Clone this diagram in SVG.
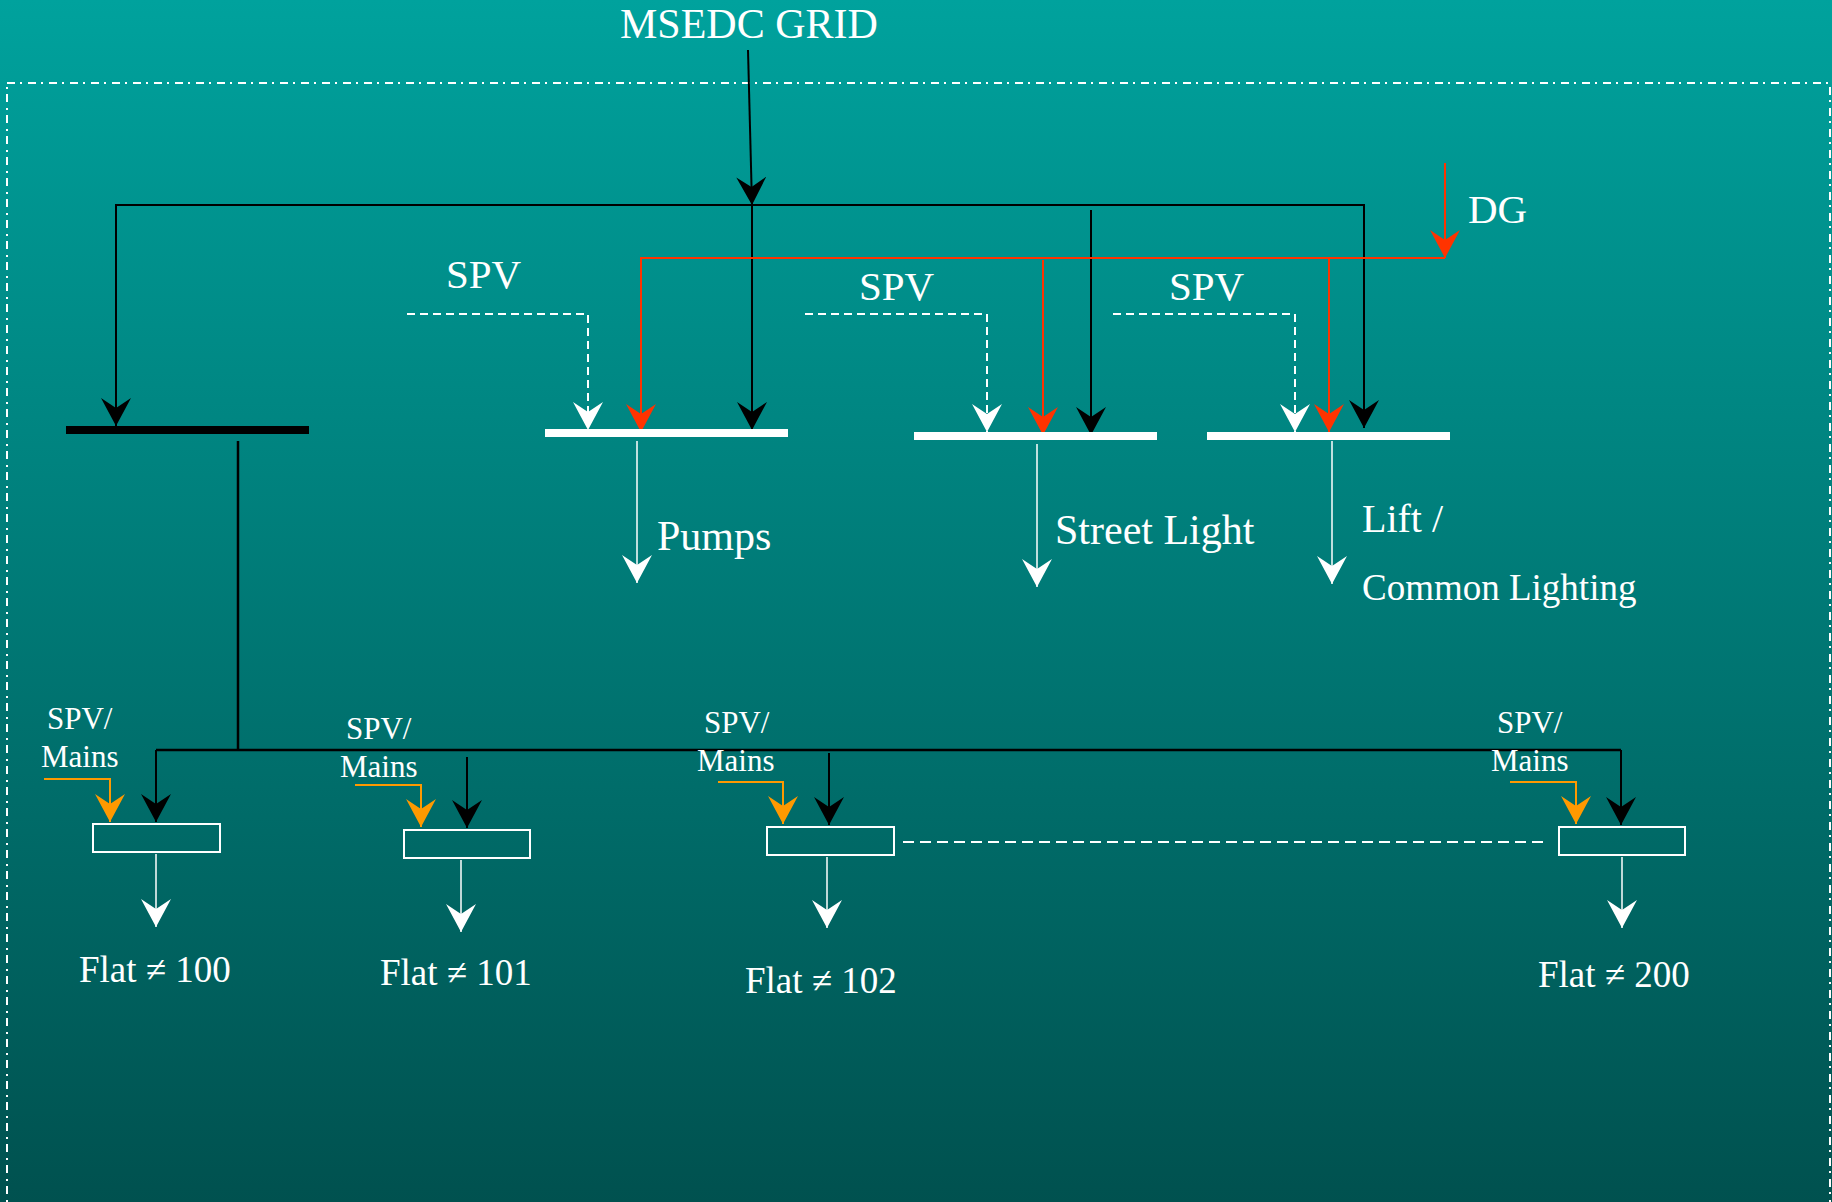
<svg xmlns="http://www.w3.org/2000/svg" width="1832" height="1202" viewBox="0 0 1832 1202">
<defs>
<linearGradient id="bg" x1="0" y1="0" x2="0" y2="1">
<stop offset="0" stop-color="#00A29D"/>
<stop offset="1" stop-color="#00514F"/>
</linearGradient>
<marker id="ah-k" viewBox="0 0 28 30" refX="28" refY="15" markerWidth="28" markerHeight="30" markerUnits="userSpaceOnUse" orient="auto"><path d="M28,15 L0,0 L10,15 L0,30 Z" fill="#000"/></marker>
<marker id="ah-w" viewBox="0 0 28 30" refX="28" refY="15" markerWidth="28" markerHeight="30" markerUnits="userSpaceOnUse" orient="auto"><path d="M28,15 L0,0 L10,15 L0,30 Z" fill="#fff"/></marker>
<marker id="ah-r" viewBox="0 0 28 30" refX="28" refY="15" markerWidth="28" markerHeight="30" markerUnits="userSpaceOnUse" orient="auto"><path d="M28,15 L0,0 L10,15 L0,30 Z" fill="#FF3300"/></marker>
<marker id="ah-o" viewBox="0 0 28 30" refX="28" refY="15" markerWidth="28" markerHeight="30" markerUnits="userSpaceOnUse" orient="auto"><path d="M28,15 L0,0 L10,15 L0,30 Z" fill="#FF9900"/></marker>
</defs>
<style>
text { font-family: "Liberation Serif", "Times New Roman", serif; fill: #fff; }
.big { font-size: 41px; }
.sm { font-size: 31px; }
.flat { font-size: 37px; }
.k { fill: none; stroke: #000; stroke-width: 2; marker-end: url(#ah-k); }
.kl { fill: none; stroke: #000; stroke-width: 2.5; }
.r { fill: none; stroke: #FF3300; stroke-width: 2; marker-end: url(#ah-r); }
.o { fill: none; stroke: #FF9900; stroke-width: 2; marker-end: url(#ah-o); }
.w { fill: none; stroke: #fff; stroke-width: 1.5; marker-end: url(#ah-w); }
.wd { fill: none; stroke: #fff; stroke-width: 2; stroke-dasharray: 8 5; marker-end: url(#ah-w); }
.box { fill: none; stroke: #fff; stroke-width: 2; }
</style>
<rect x="0" y="0" width="1832" height="1202" fill="url(#bg)"/>
<rect x="7" y="83" width="1823" height="1200" fill="none" stroke="#fff" stroke-width="2" stroke-dasharray="8 5 2 6"/>

<g id="connectors">
<path class="k" d="M748,50 L752,205"/>
<path class="k" d="M752,205 L116,205 L116,426"/>
<path class="k" d="M752,205 L1364,205 L1364,428"/>
<path class="k" d="M752,205 L752,430"/>
<path class="k" d="M1091,210 L1091,435"/>
<path class="r" d="M1445,163 L1445,258"/>
<path class="r" d="M1445,258 L641,258 L641,432"/>
<path class="r" d="M1043,260 L1043,435"/>
<path class="r" d="M1329,258 L1329,432"/>
<path class="wd" d="M407,314 L588,314 L588,430"/>
<path class="wd" d="M805,314 L987,314 L987,432"/>
<path class="wd" d="M1113,314 L1295,314 L1295,432"/>
<path class="w" d="M637,441 L637,583"/>
<path class="w" d="M1037,444 L1037,587"/>
<path class="w" d="M1332,441 L1332,584"/>
<path class="kl" d="M238,441 L238,750"/>
<path class="kl" d="M156,750 L1621,750"/>
<path class="k" d="M156,750 L156,822"/>
<path class="k" d="M467,757 L467,828"/>
<path class="k" d="M829,753 L829,825"/>
<path class="k" d="M1621,750 L1621,825"/>
<path class="o" d="M44,779 L110,779 L110,822"/>
<path class="o" d="M355,785 L421,785 L421,827"/>
<path class="o" d="M718,782 L783,782 L783,824"/>
<path class="o" d="M1510,782 L1576,782 L1576,824"/>
<path class="w" d="M156,854 L156,927"/>
<path class="w" d="M461,860 L461,932"/>
<path class="w" d="M827,857 L827,928"/>
<path class="w" d="M1622,857 L1622,928"/>
<path d="M903,842 L1545,842" fill="none" stroke="#fff" stroke-width="2" stroke-dasharray="11 6"/>
</g>

<g id="grid"><text class="big" x="620" y="38" style="font-size:42px">MSEDC GRID</text></g>
<g id="dg"><text class="big" x="1468" y="223">DG</text></g>
<g id="spv1"><text class="big" x="446" y="288">SPV</text></g>
<g id="spv2"><text class="big" x="859" y="300">SPV</text></g>
<g id="spv3"><text class="big" x="1169" y="300">SPV</text></g>

<g id="bus-main"><rect x="66" y="426" width="243" height="8" fill="#000"/></g>
<g id="bus-pumps"><rect x="545" y="429" width="243" height="8" fill="#fff"/></g>
<g id="bus-street"><rect x="914" y="432" width="243" height="8" fill="#fff"/></g>
<g id="bus-lift"><rect x="1207" y="432" width="243" height="8" fill="#fff"/></g>

<g id="pumps"><text class="big" x="657" y="550" style="font-size:42px">Pumps</text></g>
<g id="street"><text class="big" x="1055" y="544" style="font-size:42px">Street Light</text></g>
<g id="lift"><text class="big" x="1362" y="532" style="font-size:40px">Lift /</text><text x="1362" y="600" style="font-size:37px">Common Lighting</text></g>

<g id="flat100">
<text class="sm" x="47" y="729">SPV/</text><text class="sm" x="41" y="767">Mains</text>
<rect class="box" x="93" y="824" width="127" height="28"/>
<text class="flat" x="79" y="982">Flat ≠ 100</text>
</g>
<g id="flat101">
<text class="sm" x="346" y="739">SPV/</text><text class="sm" x="340" y="777">Mains</text>
<rect class="box" x="404" y="830" width="126" height="28"/>
<text class="flat" x="380" y="985">Flat ≠ 101</text>
</g>
<g id="flat102">
<text class="sm" x="704" y="733">SPV/</text><text class="sm" x="697" y="771">Mains</text>
<rect class="box" x="767" y="827" width="127" height="28"/>
<text class="flat" x="745" y="993">Flat ≠ 102</text>
</g>
<g id="flat200">
<text class="sm" x="1497" y="733">SPV/</text><text class="sm" x="1491" y="771">Mains</text>
<rect class="box" x="1559" y="827" width="126" height="28"/>
<text class="flat" x="1538" y="987">Flat ≠ 200</text>
</g>
</svg>
